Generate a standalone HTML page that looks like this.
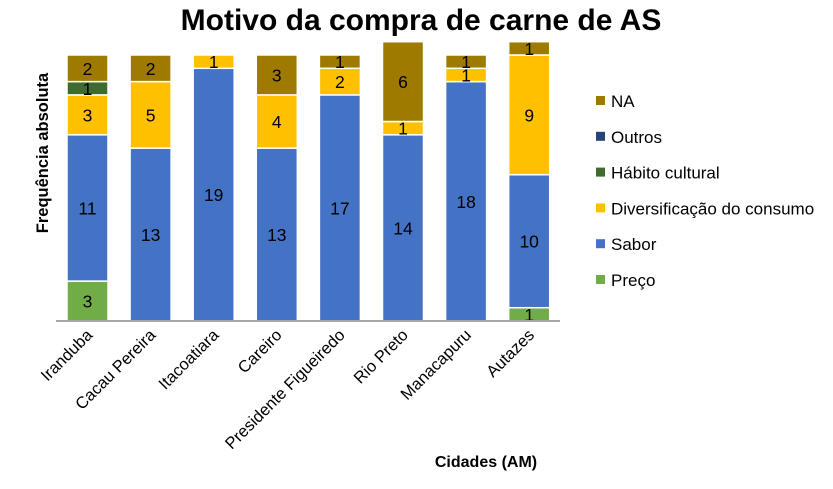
<!DOCTYPE html>
<html><head><meta charset="utf-8"><style>
body{margin:0;background:#fff;width:833px;height:484px;overflow:hidden}
svg{font-family:"Liberation Sans",sans-serif}
</style></head><body>
<svg width="833" height="484">
<text x="421" y="30" text-anchor="middle" font-size="30" font-weight="bold">Motivo da compra de carne de AS</text>
<text transform="translate(48,153) rotate(-90)" text-anchor="middle" font-size="16.5" font-weight="bold">Frequência absoluta</text>
<text x="486" y="467" text-anchor="middle" font-size="16" font-weight="bold">Cidades (AM)</text>
<g id="bars"></g>
<line x1="56" y1="321" x2="560" y2="321" stroke="#a6a6a6" stroke-width="2"/>
<g id="xlabels"></g>
<g id="legend"></g>
</svg>
<script>
const categories=["Iranduba","Cacau Pereira","Itacoatiara","Careiro","Presidente Figueiredo","Rio Preto","Manacapuru","Autazes"];
const seriesNames=["Preço","Sabor","Diversificação do consumo","Hábito cultural","Outros","NA"];
const colors=["#70ad47","#4472c4","#ffc000","#3e6b2e","#264478","#9e7a00"];
const preco=[3,0,0,0,0,0,0,1];
const sabor=[11,13,19,13,17,14,18,10];
const divers=[3,5,1,4,2,1,1,9];
const habito=[1,0,0,0,0,0,0,0];
const outros=[0,0,0,0,0,0,0,0];
const na=[2,2,0,3,1,6,1,1];
const series=[preco,sabor,divers,habito,outros,na];
const NS="http://www.w3.org/2000/svg";
const y0=321,unit=13.3,x0=67,step=63.1,bw=41;
const yS=v=>y0-v*unit;
const xS=i=>x0+i*step;
const bars=document.getElementById('bars');
categories.forEach((c,i)=>{
  let acc=0;
  series.forEach((s,k)=>{
    const v=s[i]; if(!v) return;
    const r=document.createElementNS(NS,'rect');
    r.setAttribute('x',xS(i));r.setAttribute('width',bw);
    r.setAttribute('y',yS(acc+v));r.setAttribute('height',v*unit);
    r.setAttribute('fill',colors[k]);r.setAttribute('stroke','#fff');r.setAttribute('stroke-width','1.5');
    
    
    bars.appendChild(r);
    const t=document.createElementNS(NS,'text');
    t.setAttribute('x',xS(i)+bw/2);t.setAttribute('y',yS(acc+v/2)+6.5);
    t.setAttribute('text-anchor','middle');t.setAttribute('font-size','17.5');
    t.textContent=v;
    
    
    bars.appendChild(t);
    acc+=v;
  });
});
const xl=document.getElementById('xlabels');
categories.forEach((c,i)=>{
  const t=document.createElementNS(NS,'text');
  const x=xS(i)+bw/2+6,y=336;
  t.setAttribute('transform',`translate(${x},${y}) rotate(-45)`);
  t.setAttribute('text-anchor','end');t.setAttribute('font-size','16.5');
  t.textContent=c;
  
  
  xl.appendChild(t);
});
const lg=document.getElementById('legend');
for(let k=seriesNames.length-1,row=0;k>=0;k--,row++){
  const y=101+row*35.8;
  const r=document.createElementNS(NS,'rect');
  r.setAttribute('x',596);r.setAttribute('y',y-5);r.setAttribute('width',9);r.setAttribute('height',9);
  r.setAttribute('fill',colors[k]);
  
  
  lg.appendChild(r);
  const t=document.createElementNS(NS,'text');
  t.setAttribute('x',611);t.setAttribute('y',y+6);t.setAttribute('font-size','17');
  t.textContent=seriesNames[k];
  
  
  lg.appendChild(t);
}
</script>
</body></html>
